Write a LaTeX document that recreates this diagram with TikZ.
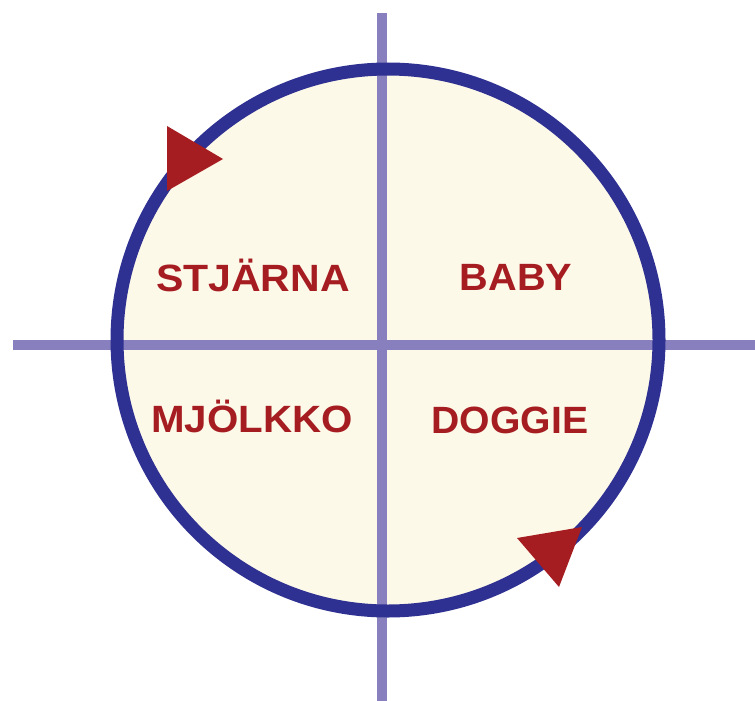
\documentclass[tikz,border=0pt]{standalone}
\usepackage{fontspec}
\setmainfont{Liberation Sans}
\definecolor{ringblue}{HTML}{2E3192}
\definecolor{axis}{HTML}{8880BE}
\definecolor{cream}{HTML}{FDF9E9}
\definecolor{wred}{HTML}{A51C21}
\begin{document}
\begin{tikzpicture}[x=1pt,y=-1pt,
  word/.style={text=wred,font=\bfseries\fontsize{38}{38}\selectfont,anchor=base,inner sep=0pt},
  axisline/.style={draw=axis,line width=10.5pt},
  tri/.style={fill=wred,draw=none}]
\useasboundingbox (0,0) rectangle (755,701);
\coordinate (c) at (388,340);
\fill[cream] (c) circle (271);
\coordinate (top) at (382,13);
\coordinate (bot) at (382,701);
\coordinate (left) at (13,345);
\coordinate (right) at (755,345);
\draw[axisline] (top) -- (bot);
\draw[axisline] (left) -- (right);
\draw[ringblue,line width=13pt] (c) circle (271);
\fill[tri] (167,126) -- (223,159) -- (167,191) -- cycle;
\fill[tri] (517,538) -- (582,527) -- (559,587) -- cycle;
\node[word] (stjarna) at (253,291) {\scalebox{1.08}[1]{STJÄRNA}};
\node[word] (baby) at (516,290) {\scalebox{1.045}[1]{BABY}};
\node[word] (mjolkko) at (252,432) {\scalebox{1.06}[1]{MJÖLKKO}};
\node[word] (doggie) at (510,433) {\scalebox{1.03}[1]{DOGGIE}};
\end{tikzpicture}
\end{document}
